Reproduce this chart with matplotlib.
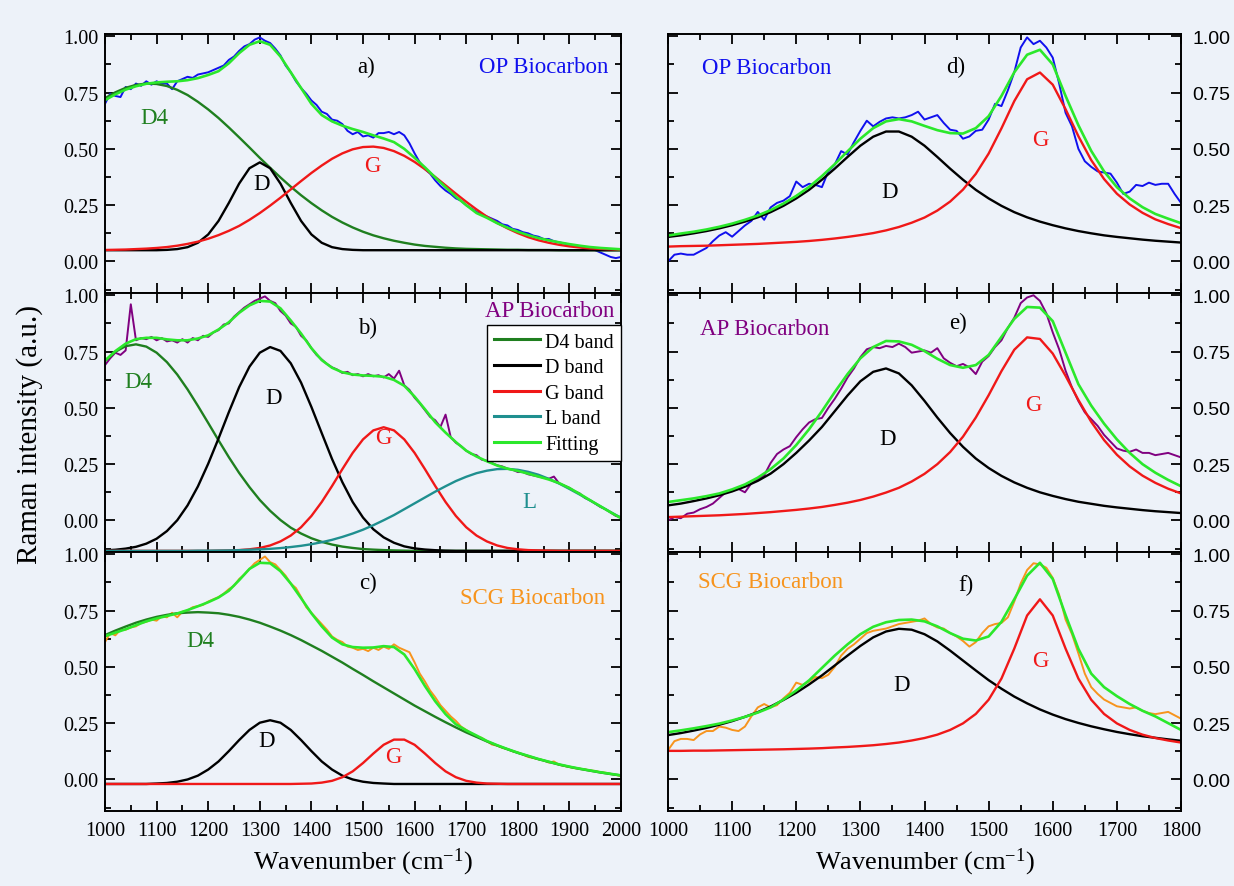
import numpy as np
import matplotlib
matplotlib.use("Agg")
import matplotlib.pyplot as plt
from matplotlib.lines import Line2D
from matplotlib.ticker import MultipleLocator, FormatStrFormatter

plt.rcParams['font.family'] = ['Liberation Serif', 'DejaVu Serif']
plt.rcParams['mathtext.fontset'] = 'custom'
plt.rcParams['mathtext.rm'] = 'Liberation Serif'
plt.rcParams['mathtext.it'] = 'Liberation Serif:italic'

BG = '#edf2f9'
C_D4, C_D, C_G, C_L, C_FIT = '#1f7f1f', 'black', '#f01818', '#1f8f8f', '#2be82b'
C_OP, C_AP, C_SCG = '#1010ee', '#800080', '#f7941d'

# wavenumber grids (cm-1)
wn_left = np.arange(1000, 2001, 20)
wn_left_raw = np.arange(1000, 2001, 10)
wn_right = np.arange(1000, 1801, 20)
wn_right_raw = np.arange(1000, 1801, 10)

# ---- panel a: OP biocarbon, 1000-2000 ----
a_raw = [0.700, 0.745, 0.735, 0.730, 0.775, 0.765, 0.790, 0.780, 0.800, 0.785,
         0.800, 0.790, 0.790, 0.765, 0.800, 0.810, 0.820, 0.815, 0.830, 0.835,
         0.840, 0.850, 0.860, 0.870, 0.895, 0.910, 0.935, 0.955, 0.965, 0.985,
         0.995, 0.980, 0.970, 0.945, 0.915, 0.870, 0.840, 0.800, 0.770, 0.745,
         0.715, 0.695, 0.665, 0.655, 0.630, 0.625, 0.610, 0.580, 0.565, 0.575,
         0.555, 0.560, 0.550, 0.570, 0.570, 0.575, 0.565, 0.575, 0.560, 0.525,
         0.480, 0.440, 0.410, 0.390, 0.360, 0.335, 0.315, 0.300, 0.280, 0.270,
         0.250, 0.235, 0.220, 0.210, 0.200, 0.190, 0.180, 0.165, 0.160, 0.145,
         0.140, 0.130, 0.125, 0.115, 0.110, 0.100, 0.100, 0.090, 0.085, 0.080,
         0.075, 0.070, 0.065, 0.060, 0.055, 0.050, 0.040, 0.030, 0.020, 0.015,
         0.020]
a_d4 = [0.725, 0.751, 0.771, 0.784, 0.790, 0.788, 0.779, 0.762, 0.739, 0.709,
        0.675, 0.637, 0.595, 0.551, 0.506, 0.460, 0.416, 0.373, 0.332, 0.294,
        0.259, 0.227, 0.198, 0.173, 0.151, 0.132, 0.116, 0.103, 0.092, 0.083,
        0.075, 0.069, 0.065, 0.061, 0.058, 0.056, 0.055, 0.054, 0.053, 0.052,
        0.052, 0.051, 0.051, 0.051, 0.050, 0.050, 0.050, 0.050, 0.050, 0.050,
        0.050]
a_d = [0.050, 0.050, 0.050, 0.050, 0.050, 0.050, 0.0515, 0.055, 0.0635, 0.083,
       0.120, 0.180, 0.260, 0.346, 0.414, 0.440, 0.414, 0.346, 0.260, 0.180,
       0.120, 0.083, 0.0635, 0.055, 0.0515, 0.050, 0.050, 0.050, 0.050, 0.050,
       0.050, 0.050, 0.050, 0.050, 0.050, 0.050, 0.050, 0.050, 0.050, 0.050,
       0.050, 0.050, 0.050, 0.050, 0.050, 0.050, 0.050, 0.050, 0.050, 0.050,
       0.050]
a_g = [0.051, 0.052, 0.053, 0.055, 0.057, 0.060, 0.064, 0.070, 0.078, 0.088,
       0.101, 0.117, 0.136, 0.158, 0.185, 0.215, 0.248, 0.283, 0.320, 0.357,
       0.393, 0.426, 0.456, 0.480, 0.498, 0.508, 0.510, 0.504, 0.490, 0.469,
       0.442, 0.410, 0.375, 0.338, 0.301, 0.265, 0.231, 0.199, 0.171, 0.147,
       0.126, 0.108, 0.094, 0.083, 0.074, 0.067, 0.062, 0.058, 0.056, 0.054,
       0.0525]
a_fit = [0.716, 0.742, 0.763, 0.778, 0.789, 0.795, 0.798, 0.800, 0.805, 0.814,
         0.828, 0.845, 0.880, 0.925, 0.962, 0.978, 0.962, 0.910, 0.840, 0.770,
         0.700, 0.650, 0.622, 0.603, 0.588, 0.575, 0.560, 0.546, 0.530, 0.500,
         0.460, 0.418, 0.373, 0.330, 0.288, 0.250, 0.215, 0.194, 0.170, 0.150,
         0.132, 0.117, 0.104, 0.094, 0.085, 0.077, 0.070, 0.064, 0.060, 0.057,
         0.054]

# ---- panel b: AP biocarbon, 1000-2000 ----
b_raw = [0.690, 0.720, 0.745, 0.735, 0.755, 0.960, 0.800, 0.810, 0.805, 0.815,
         0.800, 0.810, 0.795, 0.800, 0.790, 0.805, 0.790, 0.810, 0.800, 0.820,
         0.815, 0.835, 0.845, 0.870, 0.875, 0.905, 0.925, 0.945, 0.960, 0.975,
         0.985, 0.995, 0.975, 0.965, 0.930, 0.910, 0.875, 0.860, 0.820, 0.800,
         0.765, 0.735, 0.715, 0.695, 0.680, 0.670, 0.655, 0.660, 0.645, 0.650,
         0.640, 0.650, 0.640, 0.645, 0.635, 0.650, 0.630, 0.665, 0.600, 0.580,
         0.545, 0.520, 0.490, 0.460, 0.445, 0.415, 0.470, 0.370, 0.345, 0.330,
         0.310, 0.295, 0.290, 0.270, 0.265, 0.255, 0.245, 0.240, 0.230, 0.225,
         0.215, 0.215, 0.205, 0.200, 0.195, 0.190, 0.185, 0.195, 0.165, 0.155,
         0.145, 0.130, 0.120, 0.100, 0.090, 0.075, 0.060, 0.050, 0.035, 0.020,
         0.015]
b_d4 = [0.708, 0.749, 0.774, 0.782, 0.772, 0.745, 0.703, 0.648, 0.582, 0.509,
        0.433, 0.356, 0.281, 0.211, 0.148, 0.091, 0.043, 0.002, -0.032, -0.058,
        -0.079, -0.095, -0.107, -0.116, -0.122, -0.127, -0.1295, -0.1315, -0.133, -0.134,
        -0.135, -0.135, -0.135, -0.135, -0.135, -0.135, -0.135, -0.135, -0.135, -0.135,
        -0.135, -0.135, -0.135, -0.135, -0.135, -0.135, -0.135, -0.135, -0.135, -0.135,
        -0.135]
b_d = [-0.1326, -0.130, -0.125, -0.117, -0.103, -0.081, -0.047, 0.001, 0.067, 0.151,
       0.252, 0.364, 0.481, 0.592, 0.683, 0.745, 0.770, 0.753, 0.698, 0.612,
       0.504, 0.388, 0.273, 0.170, 0.082, 0.013, -0.039, -0.075, -0.099, -0.115,
       -0.124, -0.129, -0.132, -0.134, -0.135, -0.135, -0.135, -0.135, -0.135, -0.135,
       -0.135, -0.135, -0.135, -0.135, -0.135, -0.135, -0.135, -0.135, -0.135, -0.135,
       -0.135]
b_g = [-0.135, -0.135, -0.135, -0.135, -0.135, -0.135, -0.135, -0.135, -0.135, -0.135,
       -0.135, -0.134, -0.133, -0.1315, -0.128, -0.122, -0.111, -0.093, -0.067, -0.030,
       0.020, 0.082, 0.153, 0.228, 0.300, 0.360, 0.400, 0.414, 0.400, 0.360,
       0.300, 0.228, 0.153, 0.082, 0.020, -0.030, -0.067, -0.093, -0.111, -0.122,
       -0.128, -0.1315, -0.133, -0.134, -0.135, -0.135, -0.135, -0.135, -0.135, -0.135,
       -0.135]
b_l = [-0.135, -0.135, -0.135, -0.135, -0.135, -0.135, -0.135, -0.135, -0.135, -0.134,
       -0.134, -0.1335, -0.133, -0.132, -0.130, -0.1285, -0.126, -0.1226, -0.118, -0.1125,
       -0.1054, -0.0966, -0.086, -0.073, -0.058, -0.041, -0.021, 0.001, 0.024, 0.050,
       0.076, 0.102, 0.128, 0.152, 0.175, 0.194, 0.210, 0.221, 0.228, 0.229,
       0.225, 0.216, 0.203, 0.185, 0.164, 0.140, 0.115, 0.089, 0.063, 0.037,
       0.012]
b_fit = [0.710, 0.752, 0.785, 0.805, 0.811, 0.811, 0.804, 0.800, 0.800, 0.808,
         0.822, 0.848, 0.880, 0.922, 0.955, 0.975, 0.972, 0.942, 0.888, 0.830,
         0.765, 0.712, 0.678, 0.658, 0.648, 0.644, 0.642, 0.638, 0.624, 0.598,
         0.550, 0.494, 0.436, 0.390, 0.348, 0.310, 0.284, 0.263, 0.244, 0.230,
         0.220, 0.208, 0.195, 0.182, 0.166, 0.144, 0.118, 0.090, 0.063, 0.036,
         0.010]

# ---- panel c: SCG biocarbon, 1000-2000 ----
c_raw = [0.610, 0.650, 0.640, 0.665, 0.665, 0.675, 0.680, 0.695, 0.700, 0.710,
         0.705, 0.725, 0.720, 0.740, 0.720, 0.745, 0.750, 0.765, 0.770, 0.775,
         0.790, 0.800, 0.810, 0.825, 0.845, 0.860, 0.890, 0.910, 0.935, 0.960,
         0.975, 0.990, 0.965, 0.955, 0.930, 0.905, 0.870, 0.850, 0.810, 0.765,
         0.740, 0.715, 0.690, 0.665, 0.635, 0.620, 0.610, 0.590, 0.585, 0.575,
         0.580, 0.570, 0.585, 0.575, 0.590, 0.580, 0.600, 0.585, 0.575, 0.565,
         0.520, 0.470, 0.435, 0.395, 0.365, 0.330, 0.305, 0.280, 0.260, 0.235,
         0.220, 0.205, 0.190, 0.185, 0.170, 0.155, 0.150, 0.140, 0.135, 0.125,
         0.120, 0.110, 0.100, 0.095, 0.090, 0.085, 0.075, 0.080, 0.065, 0.060,
         0.055, 0.050, 0.048, 0.045, 0.040, 0.038, 0.032, 0.030, 0.025, 0.020,
         0.015]
c_d4 = [0.641, 0.661, 0.679, 0.696, 0.710, 0.722, 0.731, 0.738, 0.741, 0.743,
        0.741, 0.738, 0.731, 0.722, 0.710, 0.696, 0.679, 0.661, 0.641, 0.619,
        0.595, 0.571, 0.545, 0.519, 0.491, 0.464, 0.436, 0.409, 0.382, 0.355,
        0.328, 0.303, 0.278, 0.254, 0.231, 0.209, 0.189, 0.169, 0.151, 0.134,
        0.118, 0.104, 0.090, 0.078, 0.066, 0.056, 0.047, 0.039, 0.031, 0.024,
        0.018]
c_d = [-0.020, -0.020, -0.020, -0.020, -0.020, -0.018, -0.0155, -0.010, 0.000, 0.017,
       0.044, 0.080, 0.126, 0.175, 0.220, 0.252, 0.263, 0.252, 0.220, 0.175,
       0.126, 0.080, 0.044, 0.017, 0.000, -0.010, -0.0155, -0.018, -0.020, -0.020,
       -0.020, -0.020, -0.020, -0.020, -0.020, -0.020, -0.020, -0.020, -0.020, -0.020,
       -0.020, -0.020, -0.020, -0.020, -0.020, -0.020, -0.020, -0.020, -0.020, -0.020,
       -0.020]
c_g = [-0.020, -0.020, -0.020, -0.020, -0.020, -0.020, -0.020, -0.020, -0.020, -0.020,
       -0.020, -0.020, -0.020, -0.020, -0.020, -0.020, -0.020, -0.020, -0.020, -0.019,
       -0.018, -0.014, -0.006, 0.010, 0.036, 0.073, 0.115, 0.154, 0.177, 0.177,
       0.154, 0.115, 0.073, 0.036, 0.010, -0.006, -0.014, -0.018, -0.019, -0.020,
       -0.020, -0.020, -0.020, -0.020, -0.020, -0.020, -0.020, -0.020, -0.020, -0.020,
       -0.020]
c_fit = [0.636, 0.652, 0.667, 0.685, 0.702, 0.715, 0.726, 0.737, 0.752, 0.769,
         0.787, 0.808, 0.838, 0.885, 0.935, 0.962, 0.960, 0.925, 0.870, 0.805,
         0.738, 0.680, 0.630, 0.600, 0.588, 0.585, 0.586, 0.592, 0.588, 0.555,
         0.490, 0.415, 0.347, 0.290, 0.245, 0.218, 0.195, 0.171, 0.152, 0.135,
         0.119, 0.105, 0.091, 0.079, 0.067, 0.057, 0.048, 0.040, 0.032, 0.025,
         0.018]

# ---- panel d: OP biocarbon, 1000-1800 ----
d_raw = [0.000, 0.030, 0.035, 0.030, 0.030, 0.045, 0.060, 0.090, 0.115, 0.130,
         0.110, 0.135, 0.160, 0.180, 0.220, 0.185, 0.240, 0.260, 0.270, 0.290,
         0.355, 0.330, 0.345, 0.340, 0.330, 0.400, 0.430, 0.490, 0.475, 0.530,
         0.580, 0.625, 0.600, 0.620, 0.635, 0.640, 0.635, 0.640, 0.650, 0.665,
         0.630, 0.640, 0.650, 0.615, 0.585, 0.580, 0.545, 0.555, 0.580, 0.585,
         0.630, 0.700, 0.690, 0.760, 0.840, 0.950, 0.995, 0.965, 0.980, 0.950,
         0.905, 0.790, 0.660, 0.600, 0.500, 0.445, 0.420, 0.400, 0.395, 0.390,
         0.350, 0.300, 0.310, 0.340, 0.335, 0.350, 0.340, 0.345, 0.345, 0.300,
         0.260]
d_d = [0.109, 0.116, 0.125, 0.135, 0.147, 0.161, 0.177, 0.196, 0.219, 0.247,
       0.280, 0.318, 0.363, 0.412, 0.464, 0.514, 0.554, 0.577, 0.577, 0.554,
       0.514, 0.464, 0.412, 0.363, 0.318, 0.280, 0.247, 0.219, 0.196, 0.177,
       0.161, 0.147, 0.135, 0.125, 0.116, 0.109, 0.103, 0.097, 0.092, 0.088,
       0.084]
d_g = [0.066, 0.068, 0.069, 0.070, 0.072, 0.074, 0.076, 0.078, 0.081, 0.084,
       0.087, 0.091, 0.096, 0.102, 0.109, 0.117, 0.126, 0.138, 0.153, 0.172,
       0.195, 0.226, 0.266, 0.319, 0.389, 0.479, 0.591, 0.712, 0.809, 0.839,
       0.785, 0.676, 0.556, 0.450, 0.366, 0.301, 0.253, 0.216, 0.187, 0.166,
       0.148]
d_fit = [0.115, 0.124, 0.132, 0.142, 0.154, 0.168, 0.185, 0.204, 0.228, 0.257,
         0.291, 0.331, 0.379, 0.432, 0.489, 0.545, 0.592, 0.622, 0.632, 0.622,
         0.602, 0.583, 0.570, 0.568, 0.592, 0.645, 0.735, 0.840, 0.918, 0.940,
         0.875, 0.735, 0.605, 0.491, 0.400, 0.330, 0.280, 0.241, 0.211, 0.190,
         0.170]

# ---- panel e: AP biocarbon, 1000-1800 ----
e_raw = [0.000, 0.015, 0.010, 0.030, 0.035, 0.050, 0.060, 0.075, 0.100, 0.125,
         0.135, 0.140, 0.125, 0.165, 0.185, 0.200, 0.255, 0.295, 0.315, 0.330,
         0.370, 0.405, 0.435, 0.450, 0.455, 0.500, 0.540, 0.585, 0.635, 0.675,
         0.725, 0.760, 0.770, 0.765, 0.775, 0.770, 0.785, 0.770, 0.745, 0.750,
         0.755, 0.745, 0.765, 0.720, 0.700, 0.685, 0.695, 0.680, 0.650, 0.705,
         0.730, 0.770, 0.800, 0.855, 0.900, 0.965, 0.990, 1.000, 0.975, 0.920,
         0.835, 0.760, 0.665, 0.590, 0.530, 0.480, 0.450, 0.420, 0.380, 0.350,
         0.320, 0.310, 0.305, 0.315, 0.300, 0.300, 0.290, 0.295, 0.300, 0.290,
         0.280]
e_d = [0.067, 0.075, 0.086, 0.098, 0.112, 0.129, 0.150, 0.176, 0.208, 0.250,
       0.300, 0.355, 0.415, 0.485, 0.555, 0.618, 0.660, 0.675, 0.653, 0.600,
       0.531, 0.457, 0.388, 0.327, 0.275, 0.233, 0.198, 0.169, 0.145, 0.125,
       0.109, 0.095, 0.083, 0.074, 0.065, 0.058, 0.052, 0.046, 0.041, 0.037,
       0.033]
e_g = [0.015, 0.017, 0.019, 0.021, 0.023, 0.026, 0.029, 0.033, 0.037, 0.042,
       0.047, 0.053, 0.060, 0.069, 0.079, 0.091, 0.106, 0.124, 0.145, 0.173,
       0.207, 0.250, 0.304, 0.372, 0.457, 0.556, 0.663, 0.758, 0.813, 0.806,
       0.741, 0.642, 0.535, 0.438, 0.357, 0.292, 0.240, 0.199, 0.167, 0.141,
       0.120]
e_fit = [0.082, 0.090, 0.098, 0.108, 0.120, 0.138, 0.160, 0.190, 0.228, 0.275,
         0.335, 0.405, 0.485, 0.570, 0.650, 0.720, 0.770, 0.797, 0.795, 0.780,
         0.752, 0.718, 0.690, 0.678, 0.690, 0.735, 0.815, 0.895, 0.948, 0.945,
         0.885, 0.745, 0.605, 0.510, 0.430, 0.360, 0.300, 0.250, 0.212, 0.180,
         0.152]

# ---- panel f: SCG biocarbon, 1000-1800 ----
f_raw = [0.130, 0.170, 0.180, 0.180, 0.175, 0.200, 0.215, 0.215, 0.235, 0.230,
         0.220, 0.215, 0.235, 0.280, 0.320, 0.335, 0.320, 0.330, 0.360, 0.385,
         0.430, 0.420, 0.435, 0.455, 0.450, 0.465, 0.500, 0.550, 0.580, 0.600,
         0.625, 0.650, 0.660, 0.665, 0.670, 0.680, 0.690, 0.695, 0.700, 0.705,
         0.715, 0.690, 0.675, 0.670, 0.650, 0.635, 0.615, 0.590, 0.610, 0.650,
         0.680, 0.690, 0.695, 0.720, 0.790, 0.870, 0.930, 0.960, 0.955, 0.940,
         0.895, 0.820, 0.710, 0.645, 0.560, 0.470, 0.410, 0.380, 0.355, 0.340,
         0.325, 0.320, 0.315, 0.320, 0.305, 0.295, 0.290, 0.295, 0.300, 0.285,
         0.270]
f_d = [0.197, 0.206, 0.217, 0.229, 0.243, 0.259, 0.278, 0.299, 0.324, 0.353,
       0.385, 0.422, 0.462, 0.506, 0.550, 0.593, 0.631, 0.657, 0.669, 0.665,
       0.645, 0.613, 0.572, 0.528, 0.484, 0.441, 0.403, 0.368, 0.338, 0.311,
       0.288, 0.268, 0.251, 0.236, 0.223, 0.211, 0.201, 0.192, 0.185, 0.178,
       0.172]
f_g = [0.127, 0.127, 0.128, 0.128, 0.129, 0.130, 0.131, 0.132, 0.133, 0.134,
       0.1355, 0.137, 0.139, 0.142, 0.1445, 0.148, 0.152, 0.1575, 0.164, 0.173,
       0.184, 0.199, 0.220, 0.249, 0.291, 0.354, 0.448, 0.581, 0.728, 0.800,
       0.728, 0.581, 0.448, 0.354, 0.291, 0.249, 0.220, 0.199, 0.184, 0.173,
       0.164]
f_fit = [0.210, 0.218, 0.227, 0.237, 0.248, 0.262, 0.278, 0.297, 0.320, 0.355,
         0.395, 0.440, 0.495, 0.550, 0.600, 0.645, 0.678, 0.698, 0.708, 0.710,
         0.702, 0.680, 0.650, 0.625, 0.617, 0.635, 0.700, 0.800, 0.905, 0.962,
         0.890, 0.730, 0.580, 0.470, 0.410, 0.370, 0.335, 0.305, 0.280, 0.250,
         0.220]

legend_labels = ["D4 band", "D band", "G band", "L band", "Fitting"]

# ---------------------------------------------------------------- figure
fig = plt.figure(figsize=(12.34, 8.87), dpi=100, facecolor=BG)
L0, LW = 105 / 1234, 516 / 1234
R0, RW = 668 / 1234, 513 / 1234
H = 259 / 887
BOTTOMS = [1 - 294 / 887, 1 - 553 / 887, 1 - 812 / 887]


def style(ax, xmax, side, bottom_row):
    ax.set_facecolor(BG)
    ax.set_xlim(1000, xmax)
    ax.set_ylim(-0.14, 1.01)
    ax.xaxis.set_major_locator(MultipleLocator(100))
    ax.xaxis.set_minor_locator(MultipleLocator(50))
    ax.yaxis.set_major_locator(MultipleLocator(0.25))
    ax.yaxis.set_minor_locator(MultipleLocator(0.125))
    ax.yaxis.set_major_formatter(FormatStrFormatter('%.2f'))
    ax.tick_params(which='both', direction='in', top=True, bottom=True,
                   left=True, right=True, width=1.3)
    ax.tick_params(which='major', length=7)
    ax.tick_params(which='minor', length=4)
    ax.tick_params(axis='x', labelbottom=bottom_row, labelsize=14.5, pad=7)
    if side == 'left':
        ax.tick_params(axis='y', labelleft=True, labelright=False,
                       labelsize=14.5, pad=5)
    else:
        ax.tick_params(axis='y', labelleft=False, labelright=True,
                       labelsize=14, pad=8, labelfontfamily='Liberation Sans')
    for s in ax.spines.values():
        s.set_linewidth(1.4)


def draw(ax, wn, wn_raw, raw, raw_color, bands, fit):
    ax.plot(wn_raw, raw, color=raw_color, lw=1.4)
    for y, c in bands:
        ax.plot(wn, y, color=c, lw=1.7)
    ax.plot(wn, fit, color=C_FIT, lw=1.9)


def label(ax, x, y, s, c, ha='center', size=16.5):
    ax.text(x, y, s, color=c, fontsize=size, ha=ha, va='center')


# a)
ax = fig.add_axes([L0, BOTTOMS[0], LW, H])
style(ax, 2000, 'left', False)
draw(ax, wn_left, wn_left_raw, a_raw, C_OP,
     [(a_d4, C_D4), (a_d, C_D), (a_g, C_G)], a_fit)
label(ax, 1506, 0.866, "a)", 'black')
label(ax, 1975, 0.866, "OP Biocarbon", C_OP, ha='right')
label(ax, 1095, 0.64, "D4", C_D4)
label(ax, 1304, 0.346, "D", C_D)
label(ax, 1519, 0.425, "G", C_G)

# b)
ax = fig.add_axes([L0, BOTTOMS[1], LW, H])
style(ax, 2000, 'left', False)
draw(ax, wn_left, wn_left_raw, b_raw, C_AP,
     [(b_d4, C_D4), (b_d, C_D), (b_g, C_G), (b_l, C_L)], b_fit)
label(ax, 1509, 0.857, "b)", 'black')
label(ax, 1987, 0.932, "AP Biocarbon", C_AP, ha='right')
label(ax, 1065, 0.617, "D4", C_D4)
label(ax, 1326, 0.544, "D", C_D)
label(ax, 1539, 0.368, "G", C_G)
label(ax, 1823, 0.083, "L", C_L)
handles = [Line2D([], [], color=c, lw=2.2) for c in (C_D4, C_D, C_G, C_L, C_FIT)]
leg = ax.legend(handles, legend_labels, loc='upper right',
                bbox_to_anchor=(1.0, 0.875), fontsize=14.5, frameon=True,
                fancybox=False, framealpha=1, edgecolor='black',
                handlelength=2.3, handletextpad=0.25, labelspacing=0.32,
                borderpad=0.35, borderaxespad=0)
leg.get_frame().set_linewidth(1.0)

# c)
ax = fig.add_axes([L0, BOTTOMS[2], LW, H])
style(ax, 2000, 'left', True)
draw(ax, wn_left, wn_left_raw, c_raw, C_SCG,
     [(c_d4, C_D4), (c_d, C_D), (c_g, C_G)], c_fit)
label(ax, 1509, 0.874, "c)", 'black')
label(ax, 1970, 0.807, "SCG Biocarbon", C_SCG, ha='right')
label(ax, 1184, 0.617, "D4", C_D4)
label(ax, 1314, 0.172, "D", C_D)
label(ax, 1558, 0.102, "G", C_G)

# d)
ax = fig.add_axes([R0, BOTTOMS[0], RW, H])
style(ax, 1800, 'right', False)
draw(ax, wn_right, wn_right_raw, d_raw, C_OP,
     [(d_d, C_D), (d_g, C_G)], d_fit)
label(ax, 1053, 0.86, "OP Biocarbon", C_OP, ha='left')
label(ax, 1449, 0.865, "d)", 'black')
label(ax, 1346, 0.311, "D", C_D)
label(ax, 1580, 0.543, "G", C_G)

# e)
ax = fig.add_axes([R0, BOTTOMS[1], RW, H])
style(ax, 1800, 'right', False)
draw(ax, wn_right, wn_right_raw, e_raw, C_AP,
     [(e_d, C_D), (e_g, C_G)], e_fit)
label(ax, 1050, 0.851, "AP Biocarbon", C_AP, ha='left')
label(ax, 1452, 0.88, "e)", 'black')
label(ax, 1342, 0.366, "D", C_D)
label(ax, 1569, 0.515, "G", C_G)

# f)
ax = fig.add_axes([R0, BOTTOMS[2], RW, H])
style(ax, 1800, 'right', True)
draw(ax, wn_right, wn_right_raw, f_raw, C_SCG,
     [(f_d, C_D), (f_g, C_G)], f_fit)
label(ax, 1047, 0.88, "SCG Biocarbon", C_SCG, ha='left')
label(ax, 1465, 0.865, "f)", 'black')
label(ax, 1364, 0.423, "D", C_D)
label(ax, 1580, 0.528, "G", C_G)

# shared labels
fig.text(0.024, 0.51, "Raman intensity (a.u.)", rotation=90,
         ha='center', va='center', fontsize=21)
fig.text(L0 + LW / 2, 0.028, r"Wavenumber (cm$^{\mathrm{-1}}$)",
         ha='center', va='center', fontsize=19)
fig.text(R0 + RW / 2, 0.028, r"Wavenumber (cm$^{\mathrm{-1}}$)",
         ha='center', va='center', fontsize=19)

fig.savefig("out.png", dpi=100, facecolor=BG)
